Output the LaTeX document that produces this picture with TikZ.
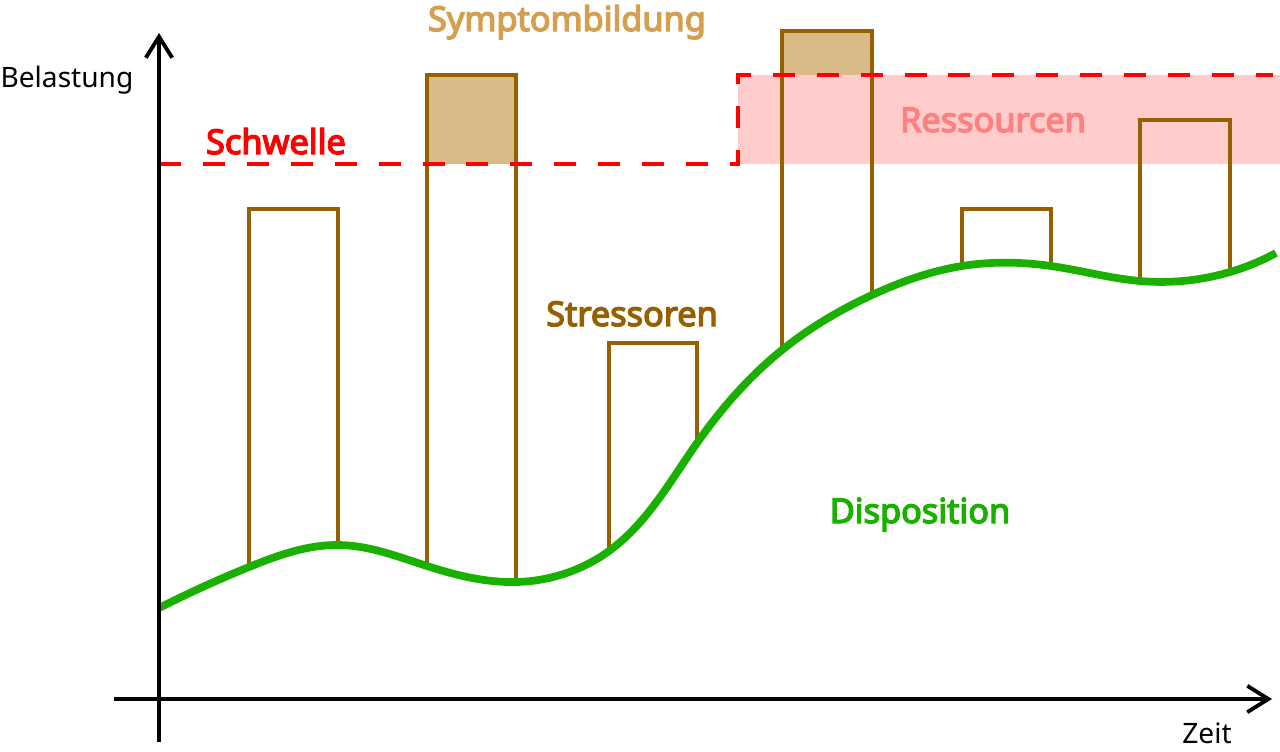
\documentclass[tikz,border=0pt]{standalone}
\usepackage{fontspec}
\setmainfont{Noto Sans}[BoldFont={Noto Sans}, BoldFeatures={FakeBold=4}]
\usetikzlibrary{arrows.meta, hobby}

\definecolor{stressbrown}{RGB}{150,96,0}
\definecolor{symptomtan}{RGB}{216,187,136}
\definecolor{symptomtext}{RGB}{212,160,80}
\definecolor{dispgreen}{RGB}{26,176,0}
\definecolor{respink}{RGB}{255,204,204}
\definecolor{restext}{RGB}{255,128,128}

\tikzset{
  axis/.style={line width=2.2pt, -{Straight Barb[length=12pt, width=15pt, line width=2.2pt]}},
  bar/.style={stressbrown, line width=1.9pt},
  schwelle/.style={red, line width=1.8pt, dash pattern=on 12.5pt off 12.5pt},
  disp/.style={dispgreen, line width=4.4pt},
  label/.style={anchor=base, font=\fontsize{19.5}{23}\selectfont\bfseries},
  axislabel/.style={anchor=base, font=\fontsize{16}{19}\selectfont}
}

\begin{document}
\begin{tikzpicture}[x=0.02cm, y=-0.02cm]
    \useasboundingbox (0,0) rectangle (1280,751);

    % threshold heights (in pixel rows)
    \def\ythr{164}
    \def\yres{75}

    % resource band above the threshold
    \fill[respink] (738,\yres) rectangle (1280,\ythr);

    % points where the stressor bars stand on the disposition curve
    \coordinate (b1l) at (249,567);
    \coordinate (b1r) at (340,545);
    \coordinate (b2l) at (427,566);
    \coordinate (b2r) at (516,582);
    \coordinate (b3l) at (609,551);
    \coordinate (b3r) at (697,443);
    \coordinate (b4l) at (782,350);
    \coordinate (b4r) at (872,295);
    \coordinate (b5l) at (962,266);
    \coordinate (b5r) at (1051,266);
    \coordinate (b6l) at (1140,281);
    \coordinate (b6r) at (1230,272);

    % symptom parts of the bars (above the threshold)
    \fill[symptomtan] (427,\yres) rectangle (516,\ythr);
    \fill[symptomtan] (782,31) rectangle (872,\yres);

    % stressor bars
    \draw[bar] (b1l) |- (338,209) -- (338,546);
    \draw[bar] (b2l) |- (516,\yres) -- (b2r);
    \draw[bar] (b3l) |- (697,343) -- (b3r);
    \draw[bar] (b4l) |- (872,31) -- (b4r);
    \draw[bar] (b5l) |- (1051,209) -- (b5r);
    \draw[bar] (b6l) |- (1230,120) -- (b6r);

    % threshold, raised by the resources
    \draw[schwelle] (159,\ythr) -- (738,\ythr) -- (738,\yres) -- (1273,\yres);

    % disposition curve
    \draw[disp, use Hobby shortcut] (159,608) .. (b1l) .. (b1r) .. (b2l) .. (b2r)
        .. (b3l) .. (b3r) .. (b4l) .. (b4r) .. (b5l) .. (b5r)
        .. (b6l) .. (b6r) .. (1276,253);

    % axes
    \draw[axis] (159,742) -- (159,33);
    \draw[axis] (114,699) -- (1272,699);

    % labels (placed on their baselines)
    \node[axislabel] (belastung) at (67,87) {Belastung};
    \node[axislabel] (zeit) at (1207,743) {Zeit};
    \node[label, red] (schwellelbl) at (276,154) {Schwelle};
    \node[label, symptomtext] (symptom) at (567,31) {Symptombildung};
    \node[label, stressbrown] (stress) at (632,326) {Stressoren};
    \node[label, restext] (ressourcen) at (993,132) {Ressourcen};
    \node[label, dispgreen] (disposition) at (920,523) {Disposition};
\end{tikzpicture}
\end{document}
